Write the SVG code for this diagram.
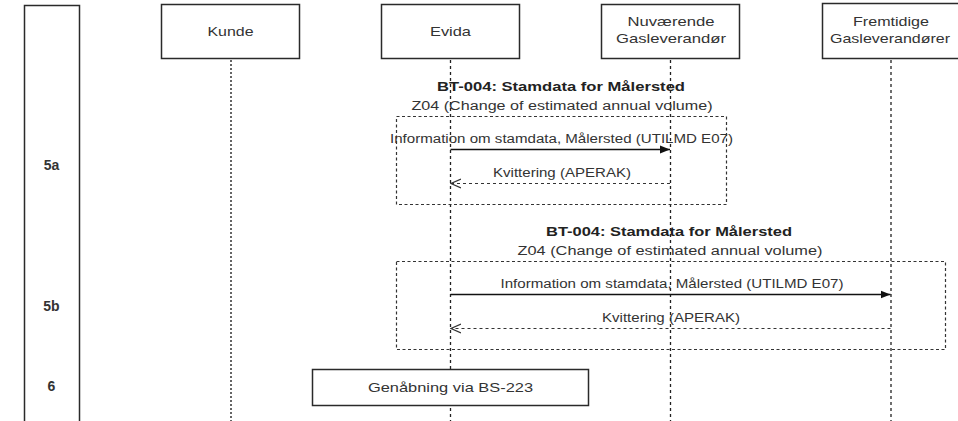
<svg xmlns="http://www.w3.org/2000/svg" width="958" height="421" viewBox="0 0 958 421">
<style>
  .box { fill: #ffffff; stroke: #2a2a2a; stroke-width: 1.5; }
  .lane { fill: none; stroke: #2a2a2a; stroke-width: 1.5; }
  .life { fill: none; stroke: #222222; stroke-width: 1.3; stroke-dasharray: 3 3; }
  .lifedot { fill: none; stroke: #555555; stroke-width: 1.8; stroke-dasharray: 2 2; }
  .frame { fill: none; stroke: #333333; stroke-width: 1.2; stroke-dasharray: 3 2.5; }
  .msg { fill: none; stroke: #111111; stroke-width: 1.4; }
  .ret { fill: none; stroke: #333333; stroke-width: 1.2; stroke-dasharray: 3 3; }
  text { font-family: "Liberation Sans", Arial, sans-serif; fill: #333333; }
  .name { font-size: 13px; text-anchor: middle; }
  .lbl { font-size: 12.5px; text-anchor: middle; }
  .title { font-size: 13px; font-weight: bold; text-anchor: middle; fill: #222222; }
  .step { font-size: 14px; font-weight: bold; text-anchor: middle; fill: #333333; }
</style>
<defs>
  <marker id="filled" markerWidth="11" markerHeight="9" refX="10" refY="4.5" orient="auto" markerUnits="userSpaceOnUse">
    <path d="M0,0.5 L10,4.5 L0,8.5 z" fill="#111111"/>
  </marker>
  <marker id="open" markerWidth="11" markerHeight="11" refX="10" refY="5.5" orient="auto" markerUnits="userSpaceOnUse">
    <path d="M0,1 L10,5.5 L0,10" fill="none" stroke="#333333" stroke-width="1.2"/>
  </marker>
</defs>
<rect width="958" height="421" fill="#ffffff"/>

<g id="lane-steps">
  <rect class="lane" x="24.5" y="5.5" width="55" height="430"/>
  <text class="step" x="51.5" y="170">5a</text>
  <text class="step" x="51.5" y="311">5b</text>
  <text class="step" x="51.5" y="391">6</text>
</g>

<g id="lifelines">
  <line class="lifedot" x1="231" y1="60" x2="231" y2="421"/>
  <line class="life" x1="450.5" y1="60" x2="450.5" y2="421"/>
  <line class="life" x1="670.5" y1="60" x2="670.5" y2="421"/>
  <line class="life" x1="891" y1="60" x2="891" y2="421"/>
</g>

<g id="node-kunde">
  <rect class="box" x="161.5" y="4.5" width="138" height="54"/>
  <text class="name" x="230.5" y="36" textLength="46" lengthAdjust="spacingAndGlyphs">Kunde</text>
</g>
<g id="node-evida">
  <rect class="box" x="381.5" y="4.5" width="138" height="54"/>
  <text class="name" x="450.5" y="36" textLength="41" lengthAdjust="spacingAndGlyphs">Evida</text>
</g>
<g id="node-nuvaerende">
  <rect class="box" x="601.5" y="4.5" width="138" height="54"/>
  <text class="name" x="671" y="26" textLength="87" lengthAdjust="spacingAndGlyphs">Nuværende</text>
  <text class="name" x="671" y="42.5" textLength="110" lengthAdjust="spacingAndGlyphs">Gasleverandør</text>
</g>
<g id="node-fremtidige">
  <rect class="box" x="822.5" y="3.5" width="140" height="55"/>
  <text class="name" x="891" y="26" textLength="76" lengthAdjust="spacingAndGlyphs">Fremtidige</text>
  <text class="name" x="890" y="42.5" textLength="120" lengthAdjust="spacingAndGlyphs">Gasleverandører</text>
</g>

<g id="frame-5a">
  <rect class="frame" x="396.5" y="116.5" width="330" height="88"/>
  <text class="title" x="561" y="91" textLength="248" lengthAdjust="spacingAndGlyphs">BT-004: Stamdata for Målersted</text>
  <text class="lbl" x="562" y="110" textLength="301" lengthAdjust="spacingAndGlyphs">Z04 (Change of estimated annual volume)</text>
</g>
<g id="frame-5b">
  <rect class="frame" x="396.5" y="261.5" width="549" height="88"/>
  <text class="title" x="669" y="236" textLength="246" lengthAdjust="spacingAndGlyphs">BT-004: Stamdata for Målersted</text>
  <text class="lbl" x="670" y="255" textLength="305" lengthAdjust="spacingAndGlyphs">Z04 (Change of estimated annual volume)</text>
</g>

<g id="node-genaabning">
  <rect class="box" x="312.5" y="369.5" width="276" height="36"/>
  <text class="name" x="450.5" y="392" textLength="165" lengthAdjust="spacingAndGlyphs">Genåbning via BS-223</text>
</g>

<g id="connectors">
  <line class="msg" x1="450.5" y1="149.5" x2="670" y2="149.5" marker-end="url(#filled)"/>
  <text class="lbl" x="561.5" y="143" textLength="343" lengthAdjust="spacingAndGlyphs">Information om stamdata, Målersted (UTILMD E07)</text>
  <line class="ret" x1="670" y1="183.5" x2="451" y2="183.5" marker-end="url(#open)"/>
  <text class="lbl" x="562" y="177" textLength="138" lengthAdjust="spacingAndGlyphs">Kvittering (APERAK)</text>

  <line class="msg" x1="450.5" y1="294.5" x2="890.5" y2="294.5" marker-end="url(#filled)"/>
  <text class="lbl" x="672" y="288" textLength="343" lengthAdjust="spacingAndGlyphs">Information om stamdata, Målersted (UTILMD E07)</text>
  <line class="ret" x1="890.5" y1="328.5" x2="451" y2="328.5" marker-end="url(#open)"/>
  <text class="lbl" x="671" y="322" textLength="138" lengthAdjust="spacingAndGlyphs">Kvittering (APERAK)</text>
</g>
</svg>
